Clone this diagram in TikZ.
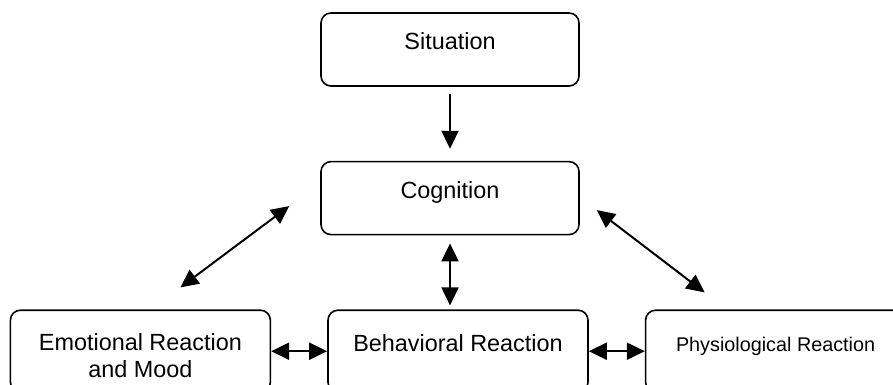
\documentclass[tikz,border=0pt]{standalone}
\usepackage{fontspec}
\setmainfont{Liberation Sans}
\usetikzlibrary{arrows.meta, positioning}

\begin{document}
\begin{tikzpicture}[
  >={Triangle[length=9pt, width=8.5pt]},
  font=\fontsize{11.7}{13.5}\selectfont,
  node distance=37pt and 28pt,
  stagebox/.style={draw=black, line width=0.8pt, rounded corners=5pt, align=center,
               minimum width=129pt, inner ysep=0pt, text height=18.5pt, text depth=18pt},
  reactbox/.style={stagebox, minimum width=130pt, text height=20.5pt, text depth=20.5pt},
  link/.style={->, line width=1pt, draw=black},
  duallink/.style={<->, line width=1pt, draw=black}
]
\path[use as bounding box, clip] (0,0) rectangle (446.5pt,-192.5pt);

\node[stagebox] (situation) at (225pt,-24.75pt) {Situation};
\node[stagebox, below=of situation] (cognition) {Cognition};
\node[reactbox, below=of cognition, xshift=4pt] (behavioral) {Behavioral Reaction};
% two lines: the box baseline sits on the last line
\node[reactbox, left=of behavioral, text height=33.5pt, text depth=7.5pt] (emotional) {Emotional Reaction\\and Mood};
\node[reactbox, right=of behavioral, font=\fontsize{9.9}{12}\selectfont] (physio) {Physiological Reaction};

\draw[link, shorten <=3.5pt, shorten >=6pt] (situation) -- (cognition);
\draw[duallink, shorten <=4pt, shorten >=2pt] (cognition.south) -- (cognition.south |- behavioral.north);

\draw[duallink] ([xshift=-15.5pt, yshift=-4pt]cognition.west) -- ([xshift=20pt, yshift=11pt]emotional.north);
\draw[duallink] ([xshift=8.5pt, yshift=-6pt]cognition.east) -- ([xshift=-35.5pt, yshift=8.5pt]physio.north);

\draw[duallink] (emotional) -- (behavioral);
\draw[duallink] (behavioral) -- (physio);
\end{tikzpicture}
\end{document}
